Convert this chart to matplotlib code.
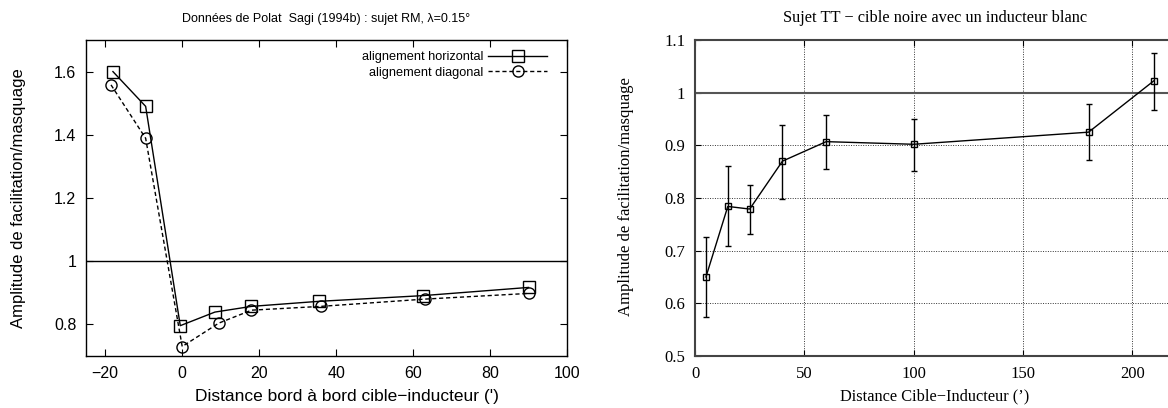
import matplotlib
matplotlib.use("Agg")
import matplotlib.pyplot as plt
import numpy as np

# ---- Left panel data (Polat & Sagi 1994b) ----
x_horiz = [-18, -9.5, -0.5, 8.5, 18, 35.5, 62.5, 90]
y_horiz = [1.60, 1.49, 0.796, 0.839, 0.857, 0.873, 0.891, 0.917]
x_diag = [-18.5, -9.5, 0, 9.5, 18, 36, 63, 90]
y_diag = [1.558, 1.389, 0.730, 0.804, 0.845, 0.857, 0.880, 0.898]
left_xticks = [-20, 0, 20, 40, 60, 80, 100]
left_yticks = [0.8, 1.0, 1.2, 1.4, 1.6]
left_yticklabels = ["0.8", "1", "1.2", "1.4", "1.6"]

# ---- Right panel data (Sujet TT) ----
x_tt = [5, 15, 25, 40, 60, 100, 180, 210]
y_tt = [0.650, 0.784, 0.779, 0.870, 0.907, 0.902, 0.925, 1.023]
err_hi = [0.725, 0.860, 0.825, 0.939, 0.958, 0.950, 0.978, 1.076]
err_lo = [0.574, 0.708, 0.732, 0.799, 0.855, 0.852, 0.872, 0.968]
right_xticks = [0, 50, 100, 150, 200]
right_yticks = [0.5, 0.6, 0.7, 0.8, 0.9, 1.0, 1.1]
right_yticklabels = ["0.5", "0.6", "0.7", "0.8", "0.9", "1", "1.1"]

W, H = 1168, 408
fig = plt.figure(figsize=(W / 100, H / 100), dpi=100)

def fx(px):
    return px / W

def fy(py):
    return 1 - py / H

# ---------------- Left axes ----------------
sans = ["Liberation Sans", "DejaVu Sans"]
axL = fig.add_axes([fx(86), fy(356), fx(567) - fx(86), fy(40) - fy(356)])
axL.plot(x_horiz, y_horiz, color="black", lw=1.0, marker="s", ms=8.5,
         mfc="none", mec="black", mew=1.0, label="alignement horizontal")
axL.plot(x_diag, y_diag, color="black", lw=1.0, ls=(0, (3, 2)), marker="o",
         ms=8, mfc="none", mec="black", mew=1.0, label="alignement diagonal")
axL.axhline(1.0, color="black", lw=1.0)
axL.set_xlim(-25, 100)
axL.set_ylim(0.7, 1.7)
axL.set_xticks(left_xticks)
axL.set_yticks(left_yticks)
axL.set_yticklabels(left_yticklabels)
axL.tick_params(direction="in", top=True, right=True, length=5, width=0.8,
                labelsize=11.5, pad=7)
for lab in axL.get_xticklabels() + axL.get_yticklabels():
    lab.set_family(sans)
for s in axL.spines.values():
    s.set_linewidth(1.0)
leg = axL.legend(loc="upper right", frameon=False, markerfirst=False,
                 prop={"family": sans, "size": 9.2}, handlelength=4.6,
                 labelspacing=0.3, borderaxespad=0.0, handletextpad=0.35,
                 bbox_to_anchor=(0.969, 0.981))
fig.text(fx(326.5), fy(19), "Données de Polat  Sagi (1994b) : sujet RM, λ=0.15°",
         ha="center", va="center", family=sans, fontsize=9)
fig.text(fx(347), fy(397), "Distance bord à bord cible−inducteur (')",
         ha="center", va="center", family=sans, fontsize=12.5)
fig.text(fx(19), fy(198), "Amplitude de facilitation/masquage", rotation=90,
         ha="center", va="center", family=sans, fontsize=12)

# ---------------- Right axes ----------------
serif = ["Liberation Serif", "DejaVu Serif"]
x0, x1 = 695, 695 + 220 * 2.1866
axR = fig.add_axes([fx(x0), fy(356), fx(x1) - fx(x0), fy(40) - fy(356)])
yerr = [np.array(y_tt) - np.array(err_lo), np.array(err_hi) - np.array(y_tt)]
axR.errorbar(x_tt, y_tt, yerr=yerr, color="black", lw=1.0, elinewidth=1.0,
             capsize=2.5, capthick=1.0, marker="s", ms=4.5, mfc="none",
             mec="black", mew=1.0, zorder=3)
axR.axhline(1.0, color="#555555", lw=1.5, zorder=2)
axR.set_xlim(0, 220)
axR.set_ylim(0.5, 1.1)
axR.set_xticks(right_xticks)
axR.set_yticks(right_yticks)
axR.set_yticklabels(right_yticklabels)
axR.grid(True, color="black", ls=(0, (1, 1.5)), lw=0.7, alpha=0.8)
axR.tick_params(direction="in", top=True, right=True, length=4, width=0.8,
                labelsize=12, pad=7)
for lab in axR.get_xticklabels() + axR.get_yticklabels():
    lab.set_family(serif)
for s in axR.spines.values():
    s.set_linewidth(1.5)
    s.set_color("#444444")
fig.text(fx(935), fy(18), "Sujet TT − cible noire avec un inducteur blanc",
         ha="center", va="center", family=serif, fontsize=11.8)
fig.text(fx(935), fy(396), "Distance Cible−Inducteur (’)",
         ha="center", va="center", family=serif, fontsize=11.8)
fig.text(fx(626), fy(197), "Amplitude de facilitation/masquage", rotation=90,
         ha="center", va="center", family=serif, fontsize=12)

fig.savefig("out.png", dpi=100)
